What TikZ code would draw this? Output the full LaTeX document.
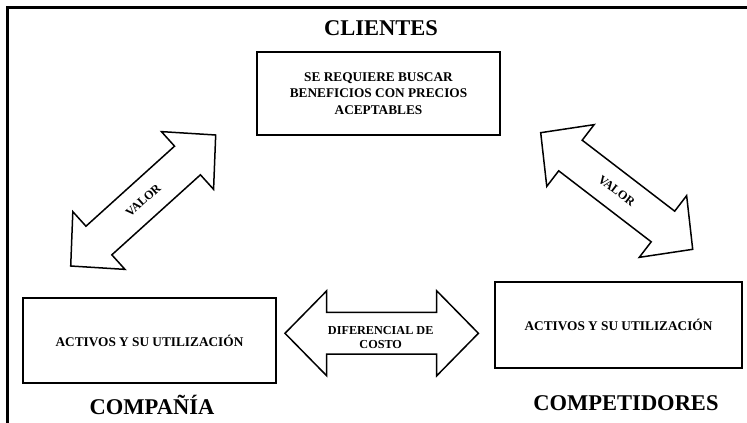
\documentclass[tikz,border=0pt]{standalone}
\usepackage{fontspec}
\setmainfont{Liberation Serif}
\begin{document}
\begin{tikzpicture}[x=1pt,y=-1pt,
  frameline/.style={line width=3pt},
  box/.style={draw,line width=1.5pt,inner sep=0pt,font=\bfseries\fontsize{13.3}{16.6}\selectfont,align=center},
  title/.style={font=\bfseries\fontsize{22.5}{24}\selectfont,inner sep=0pt},
  blockarrow/.style={draw,line width=1.5pt,line join=miter,fill=white},
  arrowtext/.style={transform shape,font=\bfseries\fontsize{12.2}{13.7}\selectfont,align=center,inner sep=0pt}]
\useasboundingbox (0,0) rectangle (747,423);

% outer frame (left and top edges)
\draw[frameline] (7,423) -- (7,7) -- (747,7);

% titles
\node[title] (clientes) at (381,28) {CLIENTES};
\node[title] (compania) at (152,405) {COMPAÑÍA};
\node[title] (competidores) at (626,403) {COMPETIDORES};

% boxes
\node[box,minimum width=243pt,minimum height=83pt] (req) at (378.5,93.5)
  {SE REQUIERE BUSCAR\\BENEFICIOS CON PRECIOS\\ACEPTABLES};
\node[box,minimum width=253pt,minimum height=85pt] (activosA) at (149.5,340.5)
  {ACTIVOS Y SU UTILIZACIÓN};
\node[box,minimum width=247pt,minimum height=86pt] (activosB) at (618.5,325)
  {ACTIVOS Y SU UTILIZACIÓN};

% left double block arrow
\begin{scope}[shift={(143.2,200.5)},rotate=42.1]
  \draw[blockarrow] (-97.7,0) -- (-59.7,38.9) -- (-59.7,19.3) -- (59.7,19.3)
    -- (59.7,38.9) -- (97.7,0) -- (59.7,-38.9) -- (59.7,-19.3)
    -- (-59.7,-19.3) -- (-59.7,-38.9) -- cycle;
  \node[arrowtext] (valorA) at (0,0) {VALOR};
\end{scope}

% right double block arrow
\begin{scope}[shift={(616.7,191)},rotate=-37.5]
  \draw[blockarrow] (-95.8,0) -- (-58.3,38.9) -- (-58.3,19.3) -- (58.3,19.3)
    -- (58.3,38.9) -- (95.8,0) -- (58.3,-38.9) -- (58.3,-19.3)
    -- (-58.3,-19.3) -- (-58.3,-38.9) -- cycle;
  \node[arrowtext] (valorB) at (0,0) {VALOR};
\end{scope}

% bottom double block arrow
\begin{scope}[shift={(381.7,333.3)}]
  \draw[blockarrow] (-96.7,0) -- (-55,-42.5) -- (-55,-20.85) -- (55,-20.85)
    -- (55,-42.5) -- (96.7,0) -- (55,42.5) -- (55,20.85)
    -- (-55,20.85) -- (-55,42.5) -- cycle;
  \node[arrowtext] (costo) at (-1,4) {DIFERENCIAL DE\\COSTO};
\end{scope}
\end{tikzpicture}
\end{document}
